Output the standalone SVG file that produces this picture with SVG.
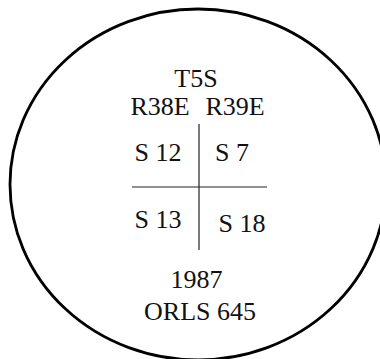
<svg xmlns="http://www.w3.org/2000/svg" width="380" height="359" viewBox="0 0 380 359">
<style>
text{font-family:"Liberation Serif","Times New Roman",serif;font-size:26px;fill:#111;text-anchor:middle}
.ln{stroke:#222;stroke-width:1.2;fill:none}
</style>
<rect width="380" height="359" fill="#fff"/>
<g id="outline">
<ellipse cx="198" cy="184.5" rx="188" ry="175.5" fill="none" stroke="#000" stroke-width="2.8"/>
</g>
<g id="connectors">
<line class="ln" x1="199" y1="124" x2="199" y2="250"/>
<line class="ln" x1="132" y1="187" x2="267" y2="187"/>
</g>
<g id="township"><text x="196" y="87">T5S</text></g>
<g id="ranges"><text x="160" y="115">R38E</text><text x="235" y="115">R39E</text></g>
<g id="s12"><text x="158" y="160.5">S 12</text></g>
<g id="s7"><text x="232" y="160.5">S 7</text></g>
<g id="s13"><text x="158" y="228">S 13</text></g>
<g id="s18"><text x="242" y="231.5">S 18</text></g>
<g id="year"><text x="196.5" y="288">1987</text></g>
<g id="orls"><text x="200" y="320">ORLS 645</text></g>
</svg>
